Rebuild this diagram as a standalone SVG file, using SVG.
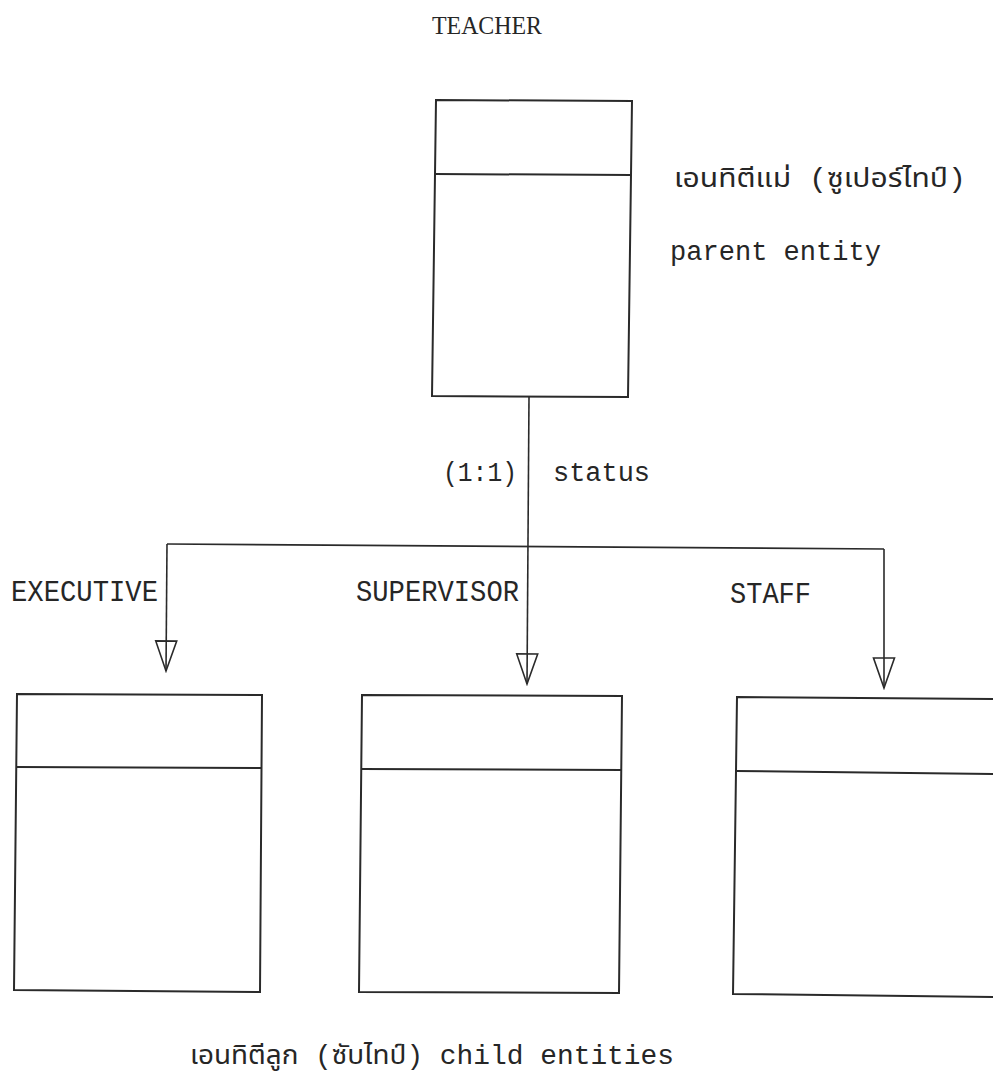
<svg xmlns="http://www.w3.org/2000/svg" width="993" height="1083" viewBox="0 0 993 1083">
  <style>
    .box { fill: none; stroke: #2a2a2a; stroke-width: 2; stroke-linejoin: miter; }
    .div { fill: none; stroke: #2a2a2a; stroke-width: 2; }
    .wire { fill: none; stroke: #2a2a2a; stroke-width: 1.6; }
    .mono { font-family: "Liberation Mono", "DejaVu Sans Mono", "Noto Sans Thai", "DejaVu Sans", monospace; font-size: 27px; fill: #262626; }
    .tall { font-size: 29px; }
    .serif { font-family: "Liberation Serif", "DejaVu Serif", serif; font-size: 26px; fill: #262626; }
  </style>
  <defs>
    <!-- open triangular arrowhead for subtype links -->
    <marker id="openTri" markerUnits="userSpaceOnUse" viewBox="-2 -13 34 26" refX="30" refY="0" markerWidth="34" markerHeight="26" orient="auto">
      <path d="M0,-10.5 L30,0 L0,10.5 Z" fill="none" stroke="#2a2a2a" stroke-width="1.6"/>
    </marker>
  </defs>
  <rect width="993" height="1083" fill="#ffffff"/>

  <!-- supertype -->
  <g id="teacher">
    <text class="serif" x="432" y="34" textLength="110" lengthAdjust="spacingAndGlyphs">TEACHER</text>
    <path class="box" d="M436,100 L632,101 L628,397 L432,396 Z"/>
    <path class="div" d="M435,174 L631,175"/>
  </g>

  <g id="parent-label">
    <text class="mono" x="674" y="187" textLength="292" lengthAdjust="spacingAndGlyphs">เอนทิตีแม่ (ซูเปอร์ไทป์)</text>
    <text class="mono" x="670" y="260" textLength="211" lengthAdjust="spacingAndGlyphs">parent entity</text>
  </g>

  <!-- subtype connectors -->
  <g id="connectors">
    <path class="wire" d="M529,397 L527,684" marker-end="url(#openTri)"/>
    <path class="wire" d="M167,544 L884,549"/>
    <path class="wire" d="M167,544 L166,671" marker-end="url(#openTri)"/>
    <path class="wire" d="M884,549 L884,688" marker-end="url(#openTri)"/>
    <text class="mono" x="443" y="481" textLength="74" lengthAdjust="spacingAndGlyphs">(1:1)</text>
    <text class="mono" x="553" y="481" textLength="97" lengthAdjust="spacingAndGlyphs">status</text>
  </g>

  <!-- subtypes -->
  <g id="executive">
    <text class="mono tall" x="11" y="601" textLength="147" lengthAdjust="spacingAndGlyphs">EXECUTIVE</text>
    <path class="box" d="M17,694 L262,695 L260,992 L14,990 Z"/>
    <path class="div" d="M16,767 L262,768"/>
  </g>

  <g id="supervisor">
    <text class="mono tall" x="356" y="601" textLength="163" lengthAdjust="spacingAndGlyphs">SUPERVISOR</text>
    <path class="box" d="M362,695 L622,696 L619,993 L359,992 Z"/>
    <path class="div" d="M361,769 L622,770"/>
  </g>

  <g id="staff">
    <text class="mono tall" x="730" y="603" textLength="81" lengthAdjust="spacingAndGlyphs">STAFF</text>
    <path class="box" d="M1000,699 L737,697 L733,994 L1000,997"/>
    <path class="div" d="M736,771 L1000,774"/>
  </g>

  <g id="child-label">
    <text class="mono" x="190" y="1064" textLength="484" lengthAdjust="spacingAndGlyphs">เอนทิตีลูก (ซับไทป์) child entities</text>
  </g>
</svg>
